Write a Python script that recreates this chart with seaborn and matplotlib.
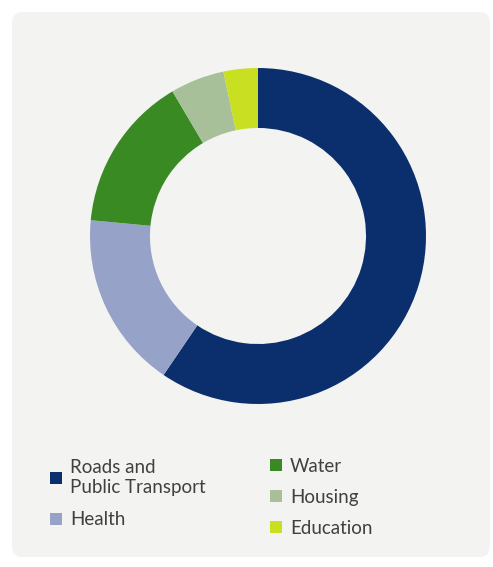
import matplotlib
matplotlib.use("Agg")
import matplotlib.pyplot as plt
from matplotlib.patches import FancyBboxPatch, Patch
import seaborn as sns

# spending shares (%), clockwise from 12 o'clock
categories = ["Roads and\nPublic Transport", "Health", "Water", "Housing", "Education"]
shares = [59.5, 17.0, 15.0, 5.2, 3.3]
colors = ["#0b2f6c", "#97a2c8", "#3a8a24", "#a8c099", "#c9df22"]

sns.set_theme(style="white")
plt.rcParams["font.family"] = ["Lato", "DejaVu Sans"]

W, H = 493, 567
fig = plt.figure(figsize=(W / 100, H / 100), dpi=100, facecolor="white")

# light grey card behind everything
card = FancyBboxPatch((12 / W, 10 / H), 478 / W, 545 / H,
                      boxstyle="round,pad=0,rounding_size=0.02",
                      transform=fig.transFigure, facecolor="#f3f3f2",
                      edgecolor="none", zorder=-5)
fig.patches.append(card)

ax = fig.add_axes([90 / W, 163 / H, 336 / W, 336 / H])
ax.set_zorder(2)
ax.patch.set_visible(False)
ax.pie(shares, colors=colors, startangle=90, counterclock=False,
       radius=1, wedgeprops=dict(width=0.357, edgecolor="none", linewidth=0))
ax.set_xlim(-1, 1)
ax.set_ylim(-1, 1)
ax.axis("off")

handles = [Patch(facecolor=c, edgecolor="none") for c in colors]
text_kw = dict(frameon=False, fontsize=13.5, handlelength=0.62, handleheight=0.62,
               handletextpad=0.45, borderpad=0, borderaxespad=0, labelcolor="#404040")

left = fig.legend(handles[:2], categories[:2], loc="upper left",
                  bbox_to_anchor=(50 / W, 1 - 459 / H), labelspacing=0.82, **text_kw)
right = fig.legend(handles[2:], categories[2:], loc="upper left",
                   bbox_to_anchor=(270 / W, 1 - 458 / H), labelspacing=0.74, **text_kw)

fig.savefig("out.png", dpi=100, facecolor="white")
